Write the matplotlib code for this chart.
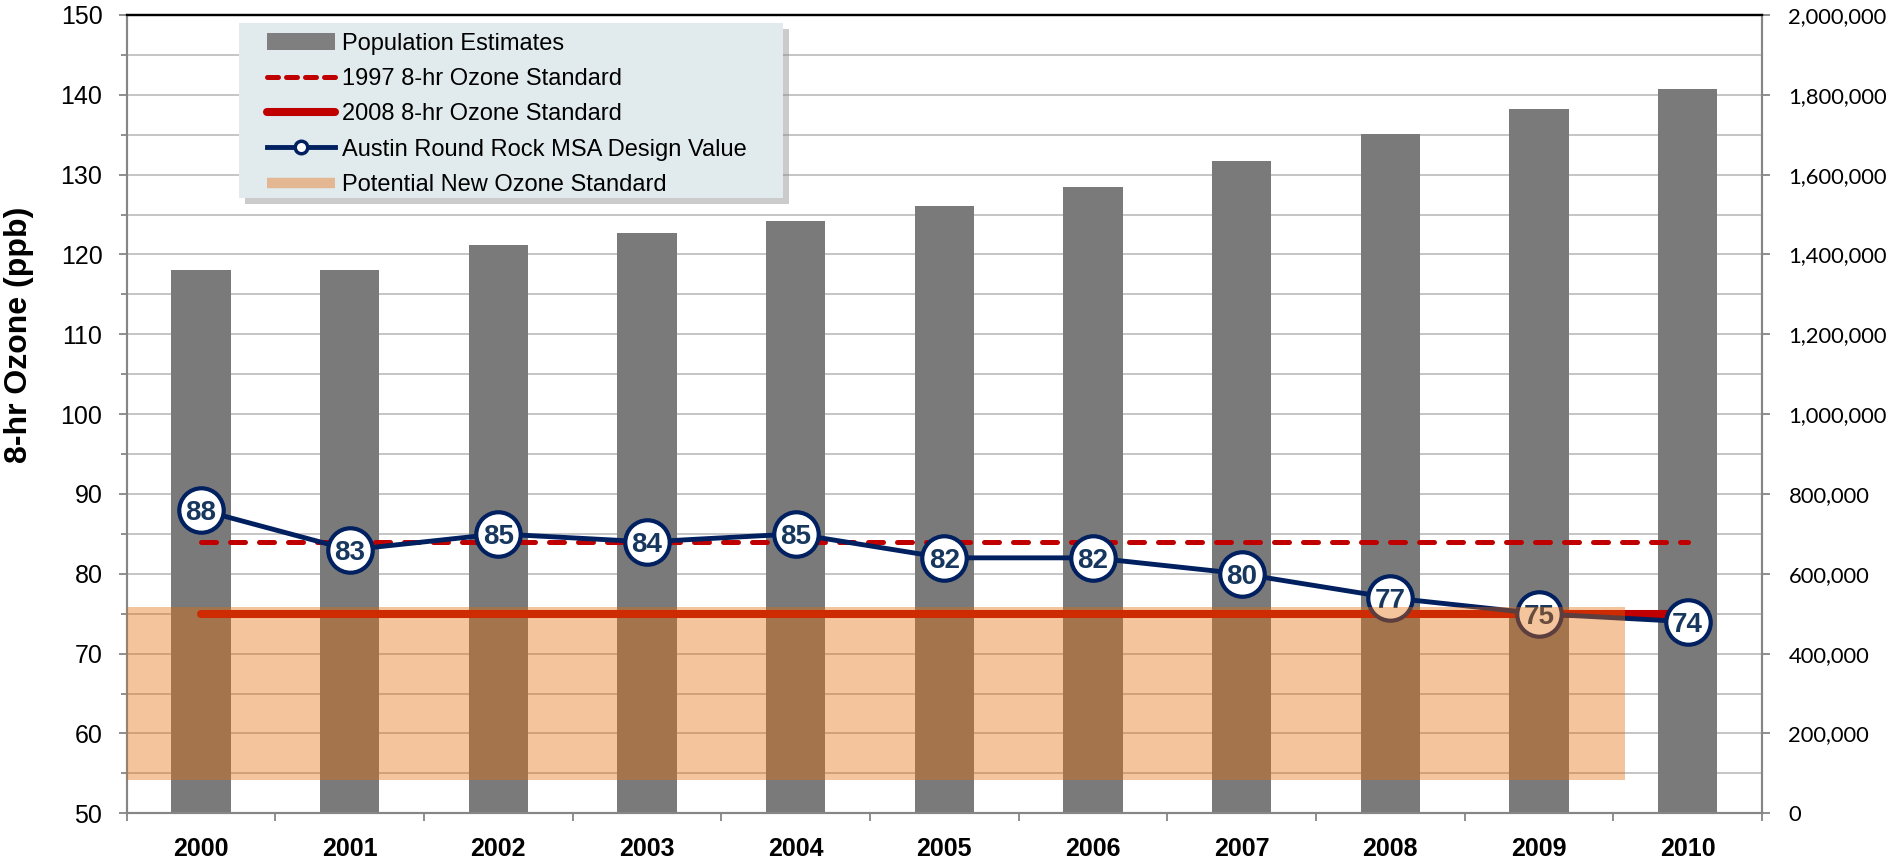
import matplotlib
matplotlib.use("Agg")
import matplotlib.pyplot as plt
from matplotlib.lines import Line2D
from matplotlib.patches import Patch, Rectangle
from matplotlib.ticker import MultipleLocator, FuncFormatter, FixedLocator

plt.rcParams['font.family'] = ['Liberation Sans', 'DejaVu Sans']

years = ['2000', '2001', '2002', '2003', '2004', '2005',
         '2006', '2007', '2008', '2009', '2010']
population = [1362000, 1361000, 1424000, 1454000, 1485000, 1522000,
              1569000, 1635000, 1702000, 1764000, 1814000]
design_value = [88, 83, 85, 84, 85, 82, 82, 80, 77, 75, 74]
std_1997 = [84] * 11
std_2008 = [75] * 11
# potential new standard band (as drawn in the original)
band_low, band_high = 54.2, 75.8
band_x = [-0.5, 9.58]

W, H = 1899, 861
fig = plt.figure(figsize=(W / 100, H / 100), dpi=100)
L, R, T, B = 126.7, 1762, 15, 813.3
ax = fig.add_axes([L / W, 1 - B / H, (R - L) / W, (B - T) / H])
ax2 = ax.twinx()
ax.yaxis.tick_right()
ax2.yaxis.tick_left()
ax2.yaxis.set_label_position('left')

x = list(range(len(years)))

# population bars (right axis)
ax.bar(x, population, width=0.4, color='#7A7A7A', zorder=2)
ax.set_ylim(0, 2000000)
ax.set_xlim(-0.5, 10.5)
ax.yaxis.set_major_locator(MultipleLocator(200000))
ax.yaxis.set_minor_locator(MultipleLocator(100000))
ax.yaxis.set_major_formatter(FuncFormatter(lambda v, p: '{:,.0f}'.format(v)))
ax.set_axisbelow(True)
ax.grid(axis='y', which='both', color='#C0C0C0', linewidth=1.3, zorder=0)
ax.tick_params(axis='y', which='major', direction='out', length=6, color='#868686',
               width=1.3, labelsize=15.8, pad=13)
ax.tick_params(axis='y', which='minor', length=0)
for lab in ax.get_yticklabels():
    lab.set_family(['Lato', 'DejaVu Sans'])

ax.set_xticks(x)
ax.set_xticklabels(years, fontsize=18, fontweight='bold')
ax.xaxis.set_minor_locator(FixedLocator([i - 0.5 for i in range(len(years) + 1)]))
ax.tick_params(axis='x', which='major', length=0, pad=17)
ax.tick_params(axis='x', which='minor', direction='out', length=6, color='#868686', width=1.3)

# ozone (left axis)
ax2.set_ylim(50, 150)
ax2.yaxis.set_major_locator(MultipleLocator(10))
ax2.yaxis.set_minor_locator(MultipleLocator(5))
ax2.tick_params(axis='y', which='major', direction='out', length=5.5, color='#868686',
                width=1.3, labelsize=18, pad=12)
ax2.tick_params(axis='y', which='minor', direction='out', length=4.5, color='#868686', width=1.3)
ax2.set_ylabel('8-hr Ozone (ppb)', fontsize=23, fontweight='bold')
ax2.yaxis.set_label_coords(-0.0567, 0.6)

for a in (ax, ax2):
    for s in ('left', 'right', 'bottom'):
        a.spines[s].set_color('#868686')
        a.spines[s].set_linewidth(1.5)
    a.spines['top'].set_color('black')
    a.spines['top'].set_linewidth(1.6)

ax2.plot(x, std_1997, color='#C00000', linewidth=3.6, linestyle=(0, (3, 2.8)),
         dash_capstyle='round', zorder=3)
ax2.plot(x, std_2008, color='#C00000', linewidth=5.8, solid_capstyle='round', zorder=3)
ax2.plot(x, design_value, color='#002060', linewidth=3.5, marker='o', markersize=32,
         markerfacecolor='white', markeredgecolor='#002060', markeredgewidth=3, zorder=4)
for xi, v in zip(x, design_value):
    ax2.text(xi, v, str(v), ha='center', va='center_baseline', fontsize=20,
             fontweight='bold', color='#17375E', zorder=5)

ax2.fill_between(band_x, band_low, band_high, color='#E46C0A', alpha=0.4,
                 linewidth=0, zorder=6)

# legend box with shadow
lx0, ly0, lx1, ly1 = 239, 23.3, 783, 198.3
shadow = Rectangle(((lx0 + 6) / W, 1 - (ly1 + 6) / H),
                   (lx1 - lx0) / W, (ly1 - ly0) / H, transform=fig.transFigure,
                   facecolor='#8C8C8C', alpha=0.45, edgecolor='none', zorder=7)
box = Rectangle((lx0 / W, 1 - ly1 / H), (lx1 - lx0) / W, (ly1 - ly0) / H,
                transform=fig.transFigure, facecolor='#E1EAEC', edgecolor='none', zorder=8)
fig.add_artist(shadow)
fig.add_artist(box)

handles = [
    Patch(facecolor='#7F7F7F'),
    Line2D([], [], color='#C00000', linewidth=3.6, linestyle=(0, (2.2, 1.6)),
           dash_capstyle='round'),
    Line2D([], [], color='#C00000', linewidth=5.8, solid_capstyle='round'),
    Line2D([], [], color='#002060', linewidth=3.5, marker='o', markersize=9,
           markerfacecolor='white', markeredgecolor='#002060', markeredgewidth=2.5),
    Line2D([], [], color='#E46C0A', alpha=0.4, linewidth=7.5, solid_capstyle='butt'),
]
labels = ['Population Estimates', '1997 8-hr Ozone Standard', '2008 8-hr Ozone Standard',
          'Austin Round Rock MSA Design Value', 'Potential New Ozone Standard']
leg = fig.legend(handles, labels, loc='upper left',
                 bbox_to_anchor=(248 / W, 1 - 14 / H), bbox_transform=fig.transFigure,
                 frameon=False, fontsize=17, handlelength=2.9, handletextpad=0.3,
                 labelspacing=0.56, borderpad=0.3)
leg.set_zorder(9)

fig.savefig('out.png', dpi=100)
